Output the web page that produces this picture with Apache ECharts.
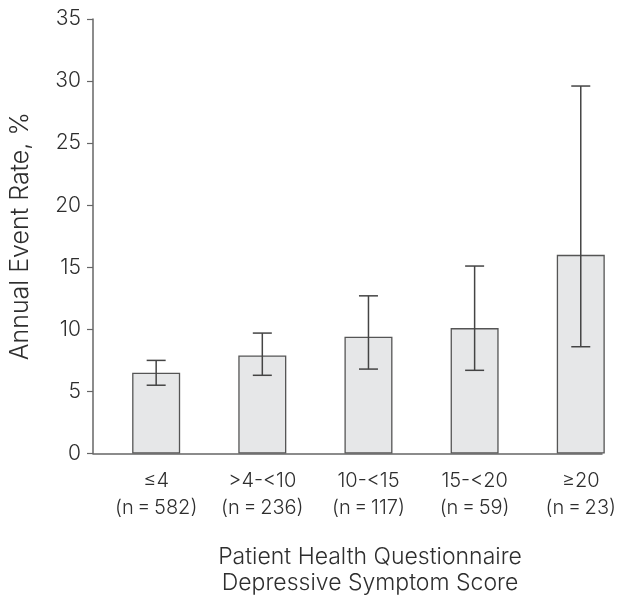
<!DOCTYPE html>
<html>
<head>
<meta charset="utf-8">
<script src="https://cdn.jsdelivr.net/npm/echarts@6/dist/echarts.min.js"></script>
<style>
html,body{margin:0;padding:0;background:#fff;}
#chart{width:623px;height:610px;}
</style>
</head>
<body>
<div id="chart"></div>
<script>
// Data
var categories = ['≤4', '>4-<10', '10-<15', '15-<20', '≥20'];
var sampleSizes = ['(n\u2009=\u2009582)', '(n\u2009=\u2009236)', '(n\u2009=\u2009117)', '(n\u2009=\u200959)', '(n\u2009=\u200923)'];
var eventRates = [6.5, 7.9, 9.4, 10.1, 16.0];
var ciLower = [5.5, 6.3, 6.8, 6.7, 8.6];
var ciUpper = [7.5, 9.7, 12.7, 15.1, 29.6];

var FONT = 'Inter';
var TXT = '#2e2e2e';
var AX = '#666';

var barData = eventRates.map(function (v, i) { return [i, v]; });
var errData = ciLower.map(function (lo, i) { return [i, lo, ciUpper[i]]; });

var chart = echarts.init(document.getElementById('chart'), null, {renderer: 'canvas'});
chart.setOption({
  animation: false,
  backgroundColor: '#fff',
  textStyle: {fontFamily: FONT},
  title: {
    text: 'Patient Health Questionnaire\nDepressive Symptom Score',
    left: 365, top: 539, textAlign: 'center',
    textStyle: {fontFamily: FONT, fontSize: 23, fontWeight: 300, color: TXT, lineHeight: 26}
  },
  grid: {left: 91, right: 21, top: 19, bottom: 156.5},
  xAxis: {
    type: 'value', min: -0.595, max: 4.2,
    splitLine: {show: false},
    axisLine: {show: true, onZero: false, lineStyle: {color: AX, width: 1.5}},
    axisTick: {show: false},
    axisLabel: {
      show: true,
      customValues: [0, 1, 2, 3, 4],
      margin: 14,
      fontFamily: FONT, fontSize: 20, fontWeight: 300, color: TXT, lineHeight: 27,
      formatter: function (v) {
        var i = Math.round(v);
        return categories[i] + '\n' + sampleSizes[i];
      }
    }
  },
  yAxis: {
    type: 'value', min: 0, max: 35, interval: 5,
    name: 'Annual Event Rate, %', nameLocation: 'middle', nameGap: 60,
    nameTextStyle: {fontFamily: FONT, fontSize: 25, fontWeight: 300, color: TXT},
    splitLine: {show: false},
    axisLine: {show: true, onZero: false, lineStyle: {color: AX, width: 1.5}},
    axisTick: {show: true, length: 6, lineStyle: {color: AX, width: 1.2}},
    axisLabel: {margin: 12, fontFamily: FONT, fontSize: 21, fontWeight: 300, color: TXT}
  },
  series: [
    {
      type: 'bar',
      data: barData,
      barWidth: 48,
      itemStyle: {color: '#e6e7e8', borderColor: '#555', borderWidth: 1.3},
      z: 2
    },
    {
      type: 'custom',
      data: errData,
      z: 3,
      renderItem: function (params, api) {
        var x = api.value(0);
        var lo = api.coord([x, api.value(1)]);
        var hi = api.coord([x, api.value(2)]);
        var hw = 9.5;
        var st = {stroke: '#444', lineWidth: 1.5};
        return {
          type: 'group',
          children: [
            {type: 'line', shape: {x1: lo[0], y1: lo[1], x2: hi[0], y2: hi[1]}, style: st},
            {type: 'line', shape: {x1: hi[0] - hw, y1: hi[1], x2: hi[0] + hw, y2: hi[1]}, style: st},
            {type: 'line', shape: {x1: lo[0] - hw, y1: lo[1], x2: lo[0] + hw, y2: lo[1]}, style: st}
          ]
        };
      }
    }
  ]
});
</script>
</body>
</html>
